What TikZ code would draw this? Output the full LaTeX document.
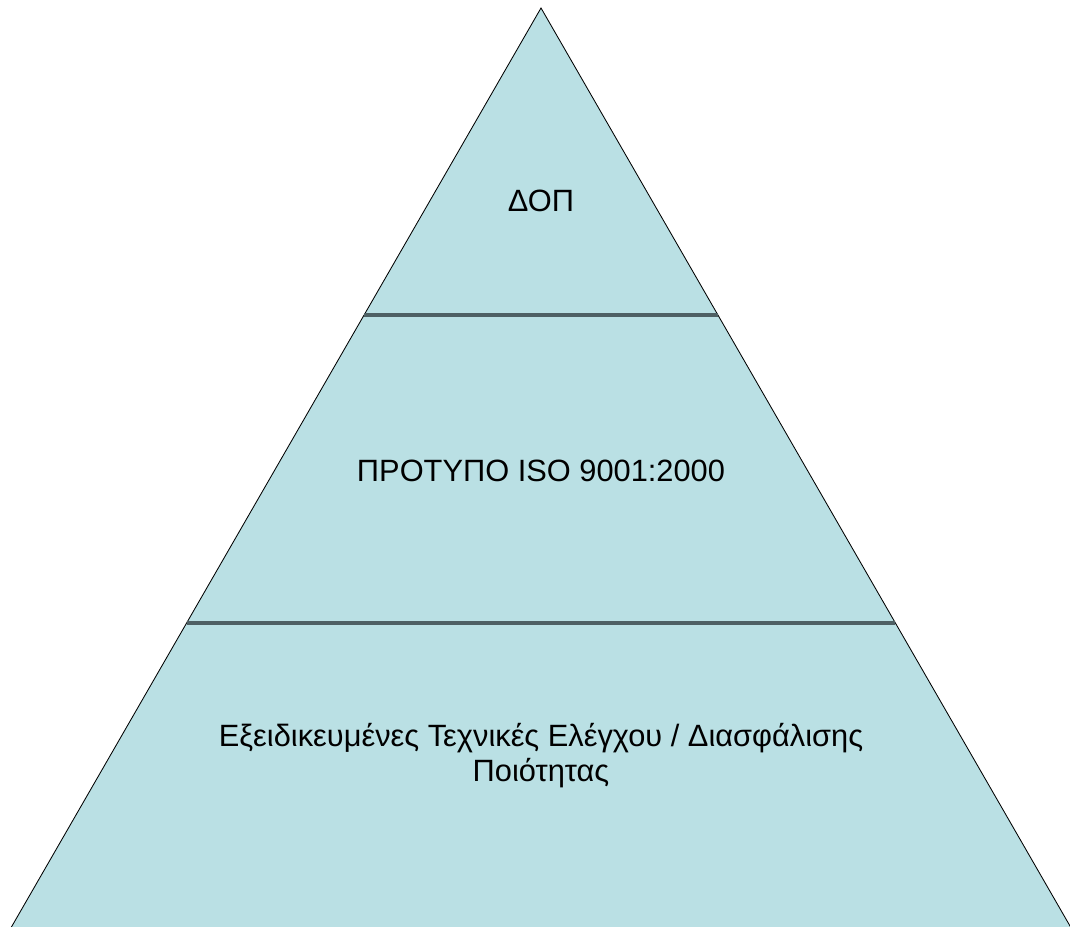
\documentclass[tikz,border=0pt]{standalone}
\usepackage{fontspec}
\setmainfont{Liberation Sans}
\usetikzlibrary{calc}
\definecolor{azzurro}{RGB}{186,224,228}
\definecolor{grigioscuro}{RGB}{78,96,100}

\begin{document}
\begin{tikzpicture}[x=0.025cm, y=-0.025cm,
  livello/.style={anchor=base, align=center, font=\fontsize{21.9}{24.2}\selectfont},
  divisore/.style={draw=grigioscuro, line width=2.2pt}]
\useasboundingbox (0,0) rectangle (1070,926);
% Piramide
\coordinate (apice) at (541,8);
\coordinate (baseSx) at (9.7,930);
\coordinate (baseDx) at (1072.3,930);
\draw[fill=azzurro, line width=0.6pt] (apice) -- (baseDx) -- (baseSx) -- cycle;

% Divisori
\coordinate (l1sx) at ($(apice)!0.333!(baseSx)$);
\coordinate (l1dx) at ($(apice)!0.333!(baseDx)$);
\coordinate (l2sx) at ($(apice)!0.667!(baseSx)$);
\coordinate (l2dx) at ($(apice)!0.667!(baseDx)$);
\draw[divisore] (l1sx) -- (l1dx);
\draw[divisore] (l2sx) -- (l2dx);

% Livelli
\node[livello] (dop) at (541,211) {ΔΟΠ};
\node[livello] (iso) at (541,481) {ΠΡΟΤΥΠΟ ISO 9001:2000};
\node[livello] (tecniche) at (541,781) {Εξειδικευμένες Τεχνικές Ελέγχου / Διασφάλισης\\ Ποιότητας};
\end{tikzpicture}
\end{document}
